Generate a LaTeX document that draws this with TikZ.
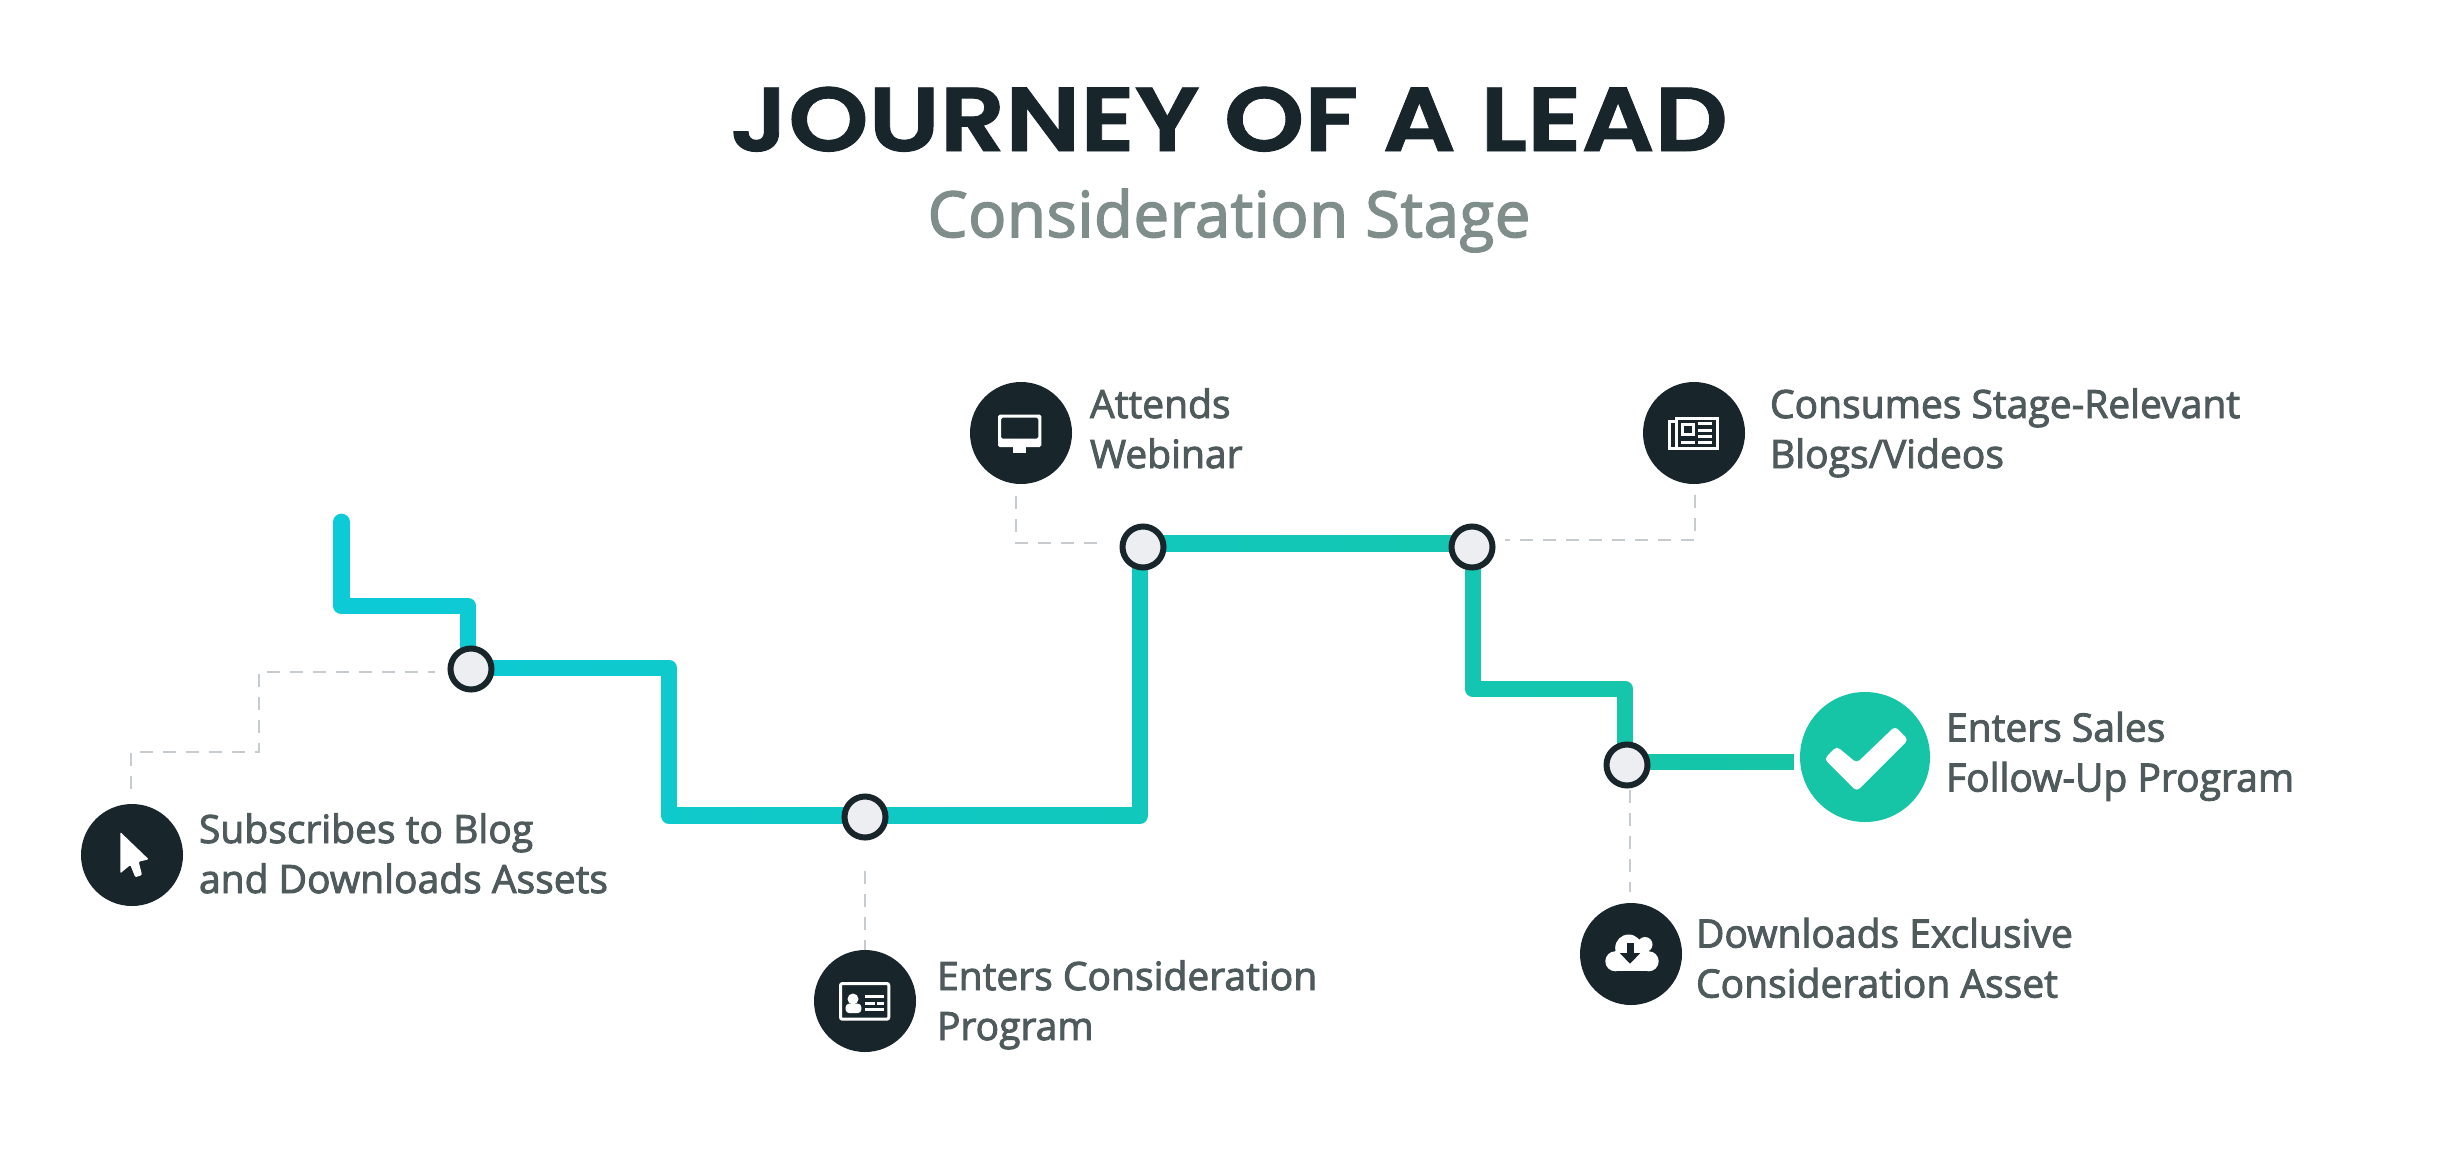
\documentclass[tikz,border=0pt]{standalone}
\usepackage{fontspec}
\setmainfont{Open Sans}
\newfontfamily\labfont{Open Sans}[FakeBold=2.4]
\newfontfamily\subfont{Open Sans}[FakeBold=2.4,LetterSpace=1]
\newfontfamily\titlefont{Poppins}[UprightFont=* SemiBold,FakeStretch=1.127,FakeBold=1]
\definecolor{ink}{HTML}{18262B}
\definecolor{labelgray}{HTML}{4F5A5D}
\definecolor{subgray}{HTML}{7F8E8B}
\definecolor{leadercol}{HTML}{C6CBCF}
\definecolor{startcol}{HTML}{0CCBD8}
\definecolor{endcol}{HTML}{16C5A5}
\definecolor{pointfill}{HTML}{ECEEF2}
\newcommand{\twolines}[2]{\vtop{\baselineskip=37.5pt\hbox{#1}\hbox{#2}}}
\tikzset{
  icondisc/.style={circle,fill=ink,inner sep=0pt,outer sep=0pt,minimum size=76.5pt},
  checkdisc/.style={circle,fill=endcol,inner sep=0pt,outer sep=0pt,minimum size=97.5pt},
  pointdot/.style={circle,draw=ink,fill=pointfill,line width=4.5pt,inner sep=0pt,outer sep=0pt,minimum size=30.75pt},
  lab/.style={anchor=base west,inner sep=0pt,outer sep=0pt,text=labelgray,font=\labfont\fontsize{29.25}{37.5}\selectfont},
  leader/.style={draw=leadercol,line width=1.5pt,dash pattern=on 9.75pt off 7.5pt},
  track/.style={line width=12.5pt,line join=round},
  iconline/.style={draw=white,line width=2.25pt},
  iconfill/.style={fill=white},
}
\begin{document}
\begin{tikzpicture}[x=0.75pt,y=-0.75pt]
\useasboundingbox (0,0) rectangle (2458,1167);
\fill[white] (0,0) rectangle (2458,1167);

% title
\node[anchor=base,inner sep=0pt,text=ink,font=\titlefont\fontsize{68}{80}\selectfont] (title) at (1229,151) {JOURNEY OF A LEAD};
\node[anchor=base,inner sep=0pt,text=subgray,font=\subfont\fontsize{47.5}{56}\selectfont] (subtitle) at (1229,237) {Consideration Stage};

% points
\coordinate (start) at (341.5,522);
\coordinate (b1) at (341.5,606);
\coordinate (b2) at (468,606);
\coordinate (b3) at (669,668);
\coordinate (b4) at (669,815.5);
\coordinate (b5) at (1140,815.5);
\coordinate (b6) at (1140,543.5);
\coordinate (b7) at (1473,543.5);
\coordinate (b8) at (1473,689);
\coordinate (b9) at (1625,689);
\coordinate (b10) at (1625,762);
\coordinate (finish) at (1794,762);

% gradient track: same path, cut in vertical strips
\foreach \s in {0,...,74}{
  \pgfmathsetmacro{\pct}{100-100*\s/74}
  \colorlet{stripcol}{startcol!\pct!endcol}
  \begin{scope}
    \clip (320+20*\s,480) rectangle (341+20*\s,800+400);
    \draw[track,stripcol,line cap=round] (start) -- (b1) -- (b2) -- (b2 |- b3) -- (b3) -- (b4) -- (b5) -- (b6) -- (b7) -- (b8) -- (b9) -- (b10);
    \draw[track,stripcol] (b10) -- (finish);
  \end{scope}
}

% icon discs
\node[icondisc] (ic1) at (132,855) {};
\node[icondisc] (ic2) at (865,1001) {};
\node[icondisc] (ic3) at (1021,433) {};
\node[icondisc] (ic4) at (1694,433) {};
\node[icondisc] (ic5) at (1631,954) {};
\node[checkdisc] (ic6) at (1865,757) {};

% track points
\node[pointdot] (p1) at (471,669) {};
\node[pointdot] (p2) at (865,817) {};
\node[pointdot] (p3) at (1143,547) {};
\node[pointdot] (p4) at (1472,547) {};
\node[pointdot] (p5) at (1627,765) {};

% leaders
\coordinate (l1a) at (131,752);
\coordinate (l1b) at (259,752);
\coordinate (l1c) at (259,672);
\draw[leader,shorten <=11pt,shorten >=27pt] (l1a |- ic1.north) -- (l1a) -- (l1b) -- (l1c) -- (l1c -| p1);
\draw[leader,shorten <=25pt,shorten >=-0pt] (p2.south) -- (ic2.north);
\coordinate (l3a) at (1016,543);
\draw[leader,shorten <=9pt,shorten >=30pt] (l3a |- ic3.south) -- (l3a) -- (l3a -| p3);
\coordinate (l4a) at (1695,540);
\draw[leader,shorten <=8pt,shorten >=25pt] (l4a |- ic4.south) -- (l4a) -- (l4a -| p4);
\coordinate (l5a) at (1630,790);
\draw[leader,shorten >=8pt] (l5a) -- (l5a |- ic5.north);

% labels
\node[lab] (t1) at (199,843) {\twolines{Subscribes to Blog}{and Downloads Assets}};
\node[lab] (t2) at (937,990) {\twolines{Enters Consideration}{Program}};
\node[lab] (t3) at (1090,418) {\twolines{Attends}{Webinar}};
\node[lab] (t4) at (1770,418) {\twolines{Consumes Stage-Relevant}{Blogs/Videos}};
\node[lab] (t5) at (1696,947.5) {\twolines{Downloads Exclusive}{Consideration Asset}};
\node[lab] (t6) at (1946,741.5) {\twolines{Enters Sales}{Follow-Up Program}};

% cursor
\begin{scope}[shift={(ic1.center)}]
  \fill[iconfill,rounded corners=0.8pt] (-11.7,-23) -- (16.7,4.3) -- (6.7,6.7) -- (10,20) -- (3.3,22.3) -- (-1.7,10) -- (-11.7,18.3) -- cycle;
\end{scope}
% id card
\begin{scope}[shift={(ic2.center)}]
  \draw[iconline,rounded corners=1.5pt] (-24.5,-17.5) rectangle (23.8,18.2);
  \fill[iconfill] (-12,-2) circle (5.5);
  \fill[iconfill,rounded corners=2.5pt] (-19.3,12) -- (-19.3,2.7) -- (-3.7,2.7) -- (-3.7,12) -- cycle;
  \draw[iconline] (0,-4.7) -- (19,-4.7);
  \draw[iconline] (0,2) -- (10,2) (12,2) -- (19,2);
  \draw[iconline] (0,8.7) -- (19,8.7);
\end{scope}
% monitor
\begin{scope}[shift={(ic3.center)}]
  \fill[iconfill,even odd rule,rounded corners=1.2pt] (-23,-18.3) rectangle (20.3,14) (-20,-15.3) rectangle (17.3,5.7);
  \fill[iconfill] (-8,14) rectangle (5.3,19.7);
\end{scope}
% newspaper
\begin{scope}[shift={(ic4.center)}]
  \draw[iconline] (-17.8,-14.5) rectangle (23.5,15.2);
  \draw[iconline] (-17.8,-11.8) -- (-24.5,-11.8) -- (-24.5,15.2) -- (-17.8,15.2);
  \draw[iconline] (-11.2,-8.8) rectangle (-0.8,1.8);
  \draw[iconline] (4,-9.3) -- (18.3,-9.3) (4,-3) -- (18.3,-3) (4,3.3) -- (18.3,3.3);
  \draw[iconline] (-12.7,9) -- (0.7,9) (4,9) -- (18.3,9);
\end{scope}
% cloud
\begin{scope}[shift={(ic5.center)}]
  \fill[iconfill] (-2.3,-6) circle (13.5) (14,-9.5) circle (7.5) (-15.7,7.3) circle (10) (17.7,7.3) circle (10);
  \fill[iconfill] (-15.7,-3) rectangle (17.7,17.3);
  \fill[ink] (-4,-11) rectangle (2.7,-1);
  \fill[ink] (-11.3,-1) -- (9.3,-1) -- (-1,9.7) -- cycle;
\end{scope}
% check
\begin{scope}[shift={(ic6.center)}]
  \fill[iconfill,rounded corners=3pt] (-28.3,-10.7) -- (-8.3,6) -- (30,-30.7) -- (43.3,-17.3) -- (-8.3,34.3) -- (-40.7,2) -- cycle;
\end{scope}
\end{tikzpicture}
\end{document}
